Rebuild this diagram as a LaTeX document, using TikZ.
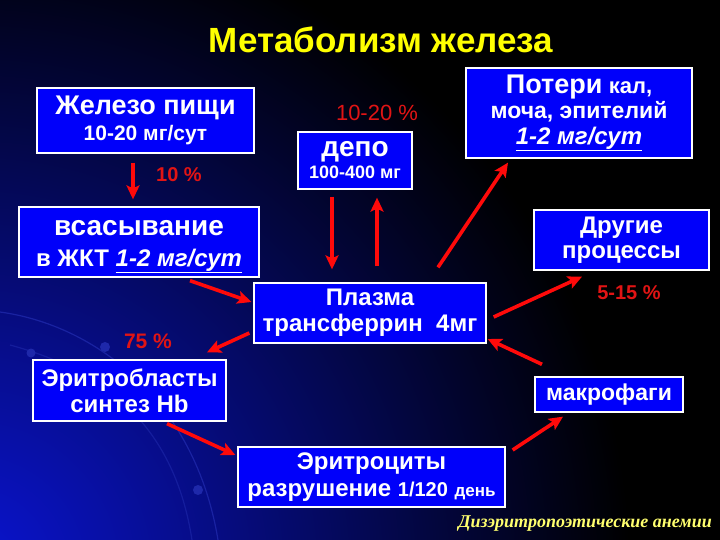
\documentclass[tikz,border=0pt]{standalone}
\usepackage{fontspec}
\setmainfont{Liberation Sans}
\newfontfamily\footfont{Liberation Serif}
\usetikzlibrary{arrows.meta,calc}
\definecolor{boxblue}{RGB}{0,0,250}
\definecolor{titleyellow}{RGB}{255,255,0}
\definecolor{labred}{RGB}{225,20,20}
\definecolor{arrred}{RGB}{255,10,10}
\definecolor{glow}{RGB}{10,20,210}
\definecolor{arcblue}{RGB}{30,40,170}
\definecolor{footyellow}{RGB}{255,255,110}
\newcommand{\fs}[2]{\fontsize{#1}{#2}\selectfont}
\begin{document}
\begin{tikzpicture}[x=1pt,y=-1pt,
  box/.style={draw=white,line width=1.3pt,fill=boxblue,text=white,align=center,
    inner sep=0pt},
  pct/.style={text=labred,inner sep=0pt},
  arr/.style={draw=arrred,line width=3.6pt,-{Stealth[length=14pt,width=13pt,inset=3pt]}}]
\useasboundingbox (0,0) rectangle (720,540);
\fill[black] (0,0) rectangle (720,540);
\begin{scope}
\clip (0,0) rectangle (720,540);
\shade[inner color=glow,outer color=black] (-30,570) circle (660);
\draw[arcblue,line width=1.2pt,opacity=0.8] (0,312) .. controls (95,325) and (195,400) .. (218,540);
\draw[arcblue,line width=1.2pt,opacity=0.6] (10,345) .. controls (110,372) and (175,430) .. (192,540);
\fill[arcblue] (31,353) circle (4.5);
\fill[arcblue] (105,347) circle (5);
\fill[arcblue] (198,490) circle (5);
\end{scope}

\node[anchor=base,text=titleyellow,font=\bfseries\fs{35}{40}] (title) at (381,53) {Метаболизм железа};

\node[box,minimum width=217pt,minimum height=65pt,font=\bfseries\fs{21}{26}] (food) at (145.5,120.5)
  {{\fs{27}{26}Железо пищи}\\{\fs{21}{26}10-20 мг/сут}};
\node[box,minimum width=114pt,minimum height=57pt,font=\bfseries\fs{18}{22}] (depo) at (355,160.5)
  {{\fs{28}{22}депо}\\{\fs{18}{22}100-400 мг}};
\node[box,minimum width=226pt,minimum height=90pt,font=\bfseries\fs{23}{25.5}] (loss) at (579,113)
  {{\fs{27}{25.5}Потери} {\fs{22}{25.5}кал,}\\{\fs{23}{25.5}моча, эпителий}\\{\fs{24}{25.5}\itshape\underline{1-2 мг/сут}}};
\node[box,minimum width=240pt,minimum height=70pt,font=\bfseries\fs{24}{31}] (abs) at (139,242)
  {{\fs{28}{31}\rule{0pt}{24pt}всасывание}\\{\fs{24}{31}в ЖКТ \itshape\underline{1-2 мг/сут}}};
\node[box,minimum width=175pt,minimum height=60pt,font=\bfseries\fs{24}{25}] (other) at (621.5,240)
  {Другие\\процессы};
\node[box,minimum width=232pt,minimum height=60pt,font=\bfseries\fs{24}{26}] (plasma) at (370,313)
  {Плазма\\трансферрин\ \ 4мг};
\node[box,minimum width=193pt,minimum height=61pt,font=\bfseries\fs{24}{26}] (eryb) at (129.5,390.5)
  {Эритробласты\\синтез Hb};
\node[box,minimum width=148pt,minimum height=35pt,font=\bfseries\fs{23}{26}] (macro) at (609,394.5)
  {макрофаги};
\node[box,minimum width=267pt,minimum height=60pt,font=\bfseries\fs{24}{27}] (eryc) at (371.5,477)
  {Эритроциты\\разрушение {\fs{20}{27}1/120} {\fs{17}{27}день}};

\node[pct,font=\bfseries\fs{20}{24}] (p10) at (179,175) {10 \%};
\node[pct,font=\fs{22}{26}] (p1020) at (377,113) {10-20 \%};
\node[pct,font=\bfseries\fs{20}{24}] (p515) at (629,293) {5-15 \%};
\node[pct,font=\bfseries\fs{21}{24}] (p75) at (148,341) {75 \%};

\draw[arr] ($(food.south)+(-12.5,9)$) -- ($(abs.north)+(-6,-7)$);
\draw[arr] ($(depo.south)+(-23,7)$) -- ($(plasma.north)+(-38,-13)$);
\draw[arr] ($(plasma.north)+(7,-16)$) -- ($(depo.south)+(22,8)$);
\draw[arr] ($(plasma.north)+(68,-15)$) -- ($(loss.south)+(-71,4)$);
\draw[arr] ($(abs.south)+(51,3)$) -- ($(plasma.west)+(-2,-11)$);
\draw[arr] ($(plasma.west)+(-4,20)$) -- ($(eryb.north)+(77.5,-7)$);
\draw[arr] ($(plasma.east)+(7,4)$) -- ($(other.south)+(-39.5,6)$);
\draw[arr] ($(macro.north)+(-67,-12)$) -- ($(plasma.east)+(1,26)$);
\draw[arr] ($(eryb.south)+(37.5,2)$) -- ($(eryc.west)+(-2,-22)$);
\draw[arr] ($(eryc.east)+(7,-27)$) -- ($(macro.south)+(-46,4)$);

\node[anchor=base east,text=footyellow,inner sep=0pt,font=\footfont\bfseries\itshape\fs{18}{22}] (foot) at (712,527) {Дизэритропоэтические анемии};
\end{tikzpicture}
\end{document}
